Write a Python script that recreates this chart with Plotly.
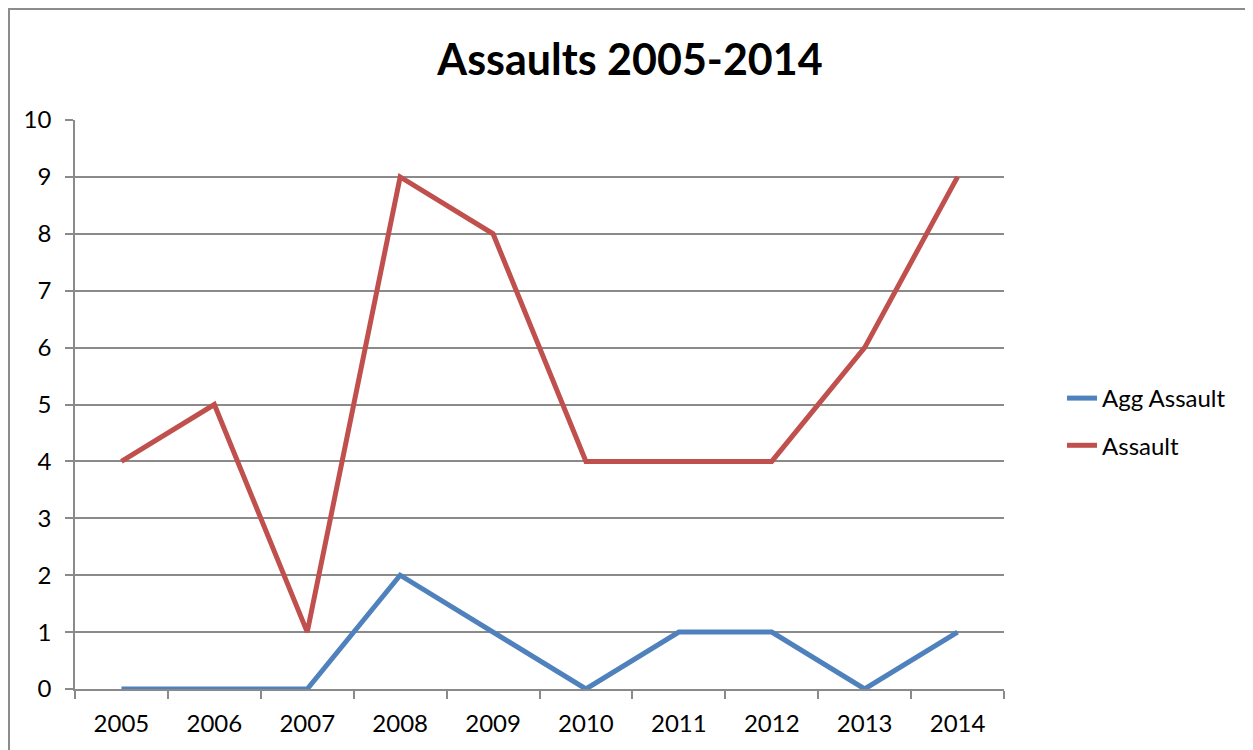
import plotly.graph_objects as go

years = ["2005", "2006", "2007", "2008", "2009", "2010", "2011", "2012", "2013", "2014"]
agg_assault = [0, 0, 0, 2, 1, 0, 1, 1, 0, 1]
assault = [4, 5, 1, 9, 8, 4, 4, 4, 6, 9]
y_ticks = list(range(0, 11))

FONT = "Lato"
GRID = "#8a8a8a"

fig = go.Figure()
fig.add_trace(go.Scatter(x=years, y=agg_assault, mode="lines", name="Agg Assault",
                         line=dict(color="#4F81BD", width=5), legendgroup="a"))
fig.add_trace(go.Scatter(x=years, y=assault, mode="lines", name="Assault",
                         line=dict(color="#C0504D", width=5), legendgroup="b"))

# page body has an 8px margin; coordinates below are in figure pixels
OFF = 8
W, H = 1253 - OFF, 750 - OFF
L, T = 75 - OFF, 120 - OFF
R, B = W - (1004 - OFF), H - (689 - OFF)
pw, ph = W - L - R, H - T - B

def px_x(x):
    return (x - OFF - L) / pw

def px_y(y):
    return (689 - y) / ph

fig.update_layout(
    width=W, height=H,
    margin=dict(l=L, r=R, t=T, b=B),
    paper_bgcolor="white", plot_bgcolor="white",
    font=dict(family=FONT, size=24, color="black"),
    title=dict(text="<b>Assaults 2005-2014</b>", x=px_x(630), xref="paper", xanchor="center",
               y=1 - (60 - OFF) / H, yanchor="middle", font=dict(family=FONT, size=43, color="black")),
    xaxis=dict(type="category", range=[-0.5, 9.5], tickson="boundaries", ticks="outside",
               ticklen=8, tickcolor=GRID, tickwidth=1.5, showline=True, linecolor=GRID, linewidth=1.5,
               showgrid=False, tickfont=dict(size=24), ticklabelstandoff=12, fixedrange=True),
    yaxis=dict(range=[0, 10], tickvals=y_ticks, ticks="outside", ticklen=8, tickcolor=GRID,
               tickwidth=1.5, showline=True, linecolor=GRID, linewidth=1.5, showgrid=True,
               gridcolor=GRID, gridwidth=1.5, zeroline=False, tickfont=dict(size=24),
               ticklabelstandoff=9, fixedrange=True),
    legend=dict(x=px_x(1062), xanchor="left", y=px_y(376), yanchor="top",
                traceorder="grouped", tracegroupgap=13, font=dict(size=24),
                bgcolor="rgba(0,0,0,0)"),
    shapes=[dict(type="rect", xref="paper", yref="paper",
                 x0=px_x(OFF + 1), x1=px_x(1270),
                 y0=px_y(770), y1=px_y(OFF + 1),
                 line=dict(color="#8c8c8c", width=2), fillcolor="rgba(0,0,0,0)", layer="below")],
)

fig.write_html("out.html")
